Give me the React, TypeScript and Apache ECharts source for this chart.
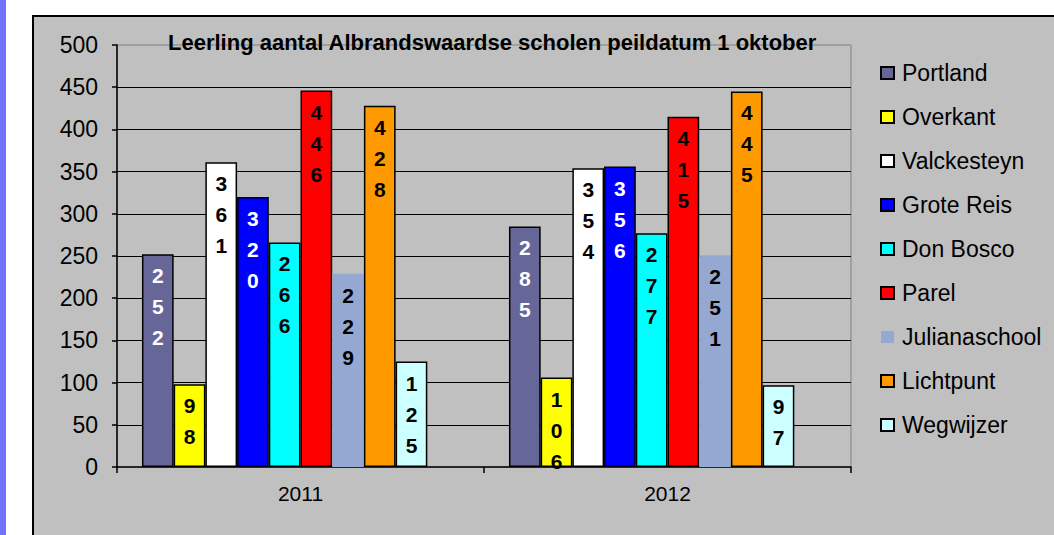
import { useEffect, useRef } from "react";
import * as echarts from "echarts";

const years = ["2011", "2012"];
const schools = ["Portland", "Overkant", "Valckesteyn", "Grote Reis", "Don Bosco", "Parel", "Julianaschool", "Lichtpunt", "Wegwijzer"];
const values2011 = [252, 98, 361, 320, 266, 446, 229, 428, 125];
const values2012 = [285, 106, 354, 356, 277, 415, 251, 445, 97];
const colors = ["#666699", "#ffff00", "#ffffff", "#0000ff", "#00ffff", "#ff0000", "#95a8d1", "#ff9900", "#ccffff"];
const labelColors = ["#ffffff", "#000000", "#000000", "#ffffff", "#000000", "#000000", "#000000", "#000000", "#000000"];
const bordered = [true, true, true, true, true, true, false, true, true];
const titleText = "Leerling aantal Albrandswaardse scholen peildatum 1 oktober";

const FONT = "Arial, 'Liberation Sans', sans-serif";

export default function App() {
  const ref = useRef<HTMLDivElement>(null);
  useEffect(() => {
    if (!ref.current) return;
    const chart = echarts.init(ref.current, null, { renderer: "svg" });
    const series: any[] = schools.map((name, i) => ({
      type: "bar",
      name,
      data: [values2011[i], values2012[i]],
      barGap: "0%",
      barCategoryGap: "13.6%",
      itemStyle: {
        color: colors[i],
        borderColor: bordered[i] ? "#000000" : undefined,
        borderWidth: bordered[i] ? 1.5 : 0,
      },
      label: {
        show: true,
        position: "insideTop",
        distance: 6,
        formatter: (p: any) => "{d|" + String(p.value).split("").join("}\n{d|") + "}",
        rich: {
          d: {
            color: labelColors[i],
            fontSize: 21,
            fontWeight: "bold",
            fontFamily: FONT,
            lineHeight: 31,
          },
        },
      },
    }));
    // empty slot (as in the original chart)
    series.push({
      type: "bar",
      name: "_empty",
      data: ["-", "-"],
      barGap: "0%",
      barCategoryGap: "13.6%",
    });

    chart.setOption({
      animation: false,
      backgroundColor: "#c0c0c0",
      textStyle: { fontFamily: FONT },
      graphic: [
        { type: "rect", shape: { x: 0, y: 0, width: 1054, height: 15 }, style: { fill: "#ffffff" } },
        { type: "rect", shape: { x: 0, y: 0, width: 32, height: 535 }, style: { fill: "#ffffff" } },
        { type: "rect", shape: { x: 0, y: 0, width: 6, height: 535 }, style: { fill: "#7272ff" } },
        { type: "rect", shape: { x: 32, y: 15, width: 2, height: 520 }, style: { fill: "#000000" } },
        { type: "rect", shape: { x: 32, y: 15, width: 1022, height: 2 }, style: { fill: "#000000" } },
      ],
      title: {
        text: titleText,
        left: 168,
        top: 31,
        padding: 0,
        textStyle: { fontSize: 22, fontWeight: "bold", color: "#000000", fontFamily: FONT },
      },
      legend: {
        data: schools,
        orient: "vertical",
        left: 880,
        top: 60,
        padding: 0,
        itemWidth: 13,
        itemHeight: 12,
        itemGap: 18,
        icon: "rect",
        textStyle: { fontSize: 23, color: "#000000", fontFamily: FONT, lineHeight: 26, padding: [0, 0, 0, 3] },
      },
      grid: {
        left: 117,
        top: 45,
        width: 734,
        bottom: 68,
        show: true,
        borderColor: "#808080",
        borderWidth: 1,
        backgroundColor: "transparent",
      },
      xAxis: {
        type: "category",
        data: years,
        axisLine: { show: true, lineStyle: { color: "#000000", width: 1.5 } },
        axisTick: { show: true, length: 6, lineStyle: { color: "#000000", width: 1.5 } },
        axisLabel: { fontSize: 21, color: "#000000", margin: 16, fontFamily: FONT },
        splitLine: { show: false },
      },
      yAxis: {
        type: "value",
        min: 0,
        max: 500,
        interval: 50,
        axisLine: { show: true, lineStyle: { color: "#000000", width: 1.5 } },
        axisTick: { show: true, length: 5, lineStyle: { color: "#000000", width: 1.5 } },
        axisLabel: { fontSize: 23, color: "#000000", margin: 19, fontFamily: FONT },
        splitLine: { show: true, showMaxLine: false, showMinLine: false, lineStyle: { color: "#000000", width: 1.2 } },
      },
      series,
    });
    return () => chart.dispose();
  }, []);
  return <div ref={ref} style={{ position: "fixed", left: 0, top: 0, width: 1054, height: 535 }} />;
}
